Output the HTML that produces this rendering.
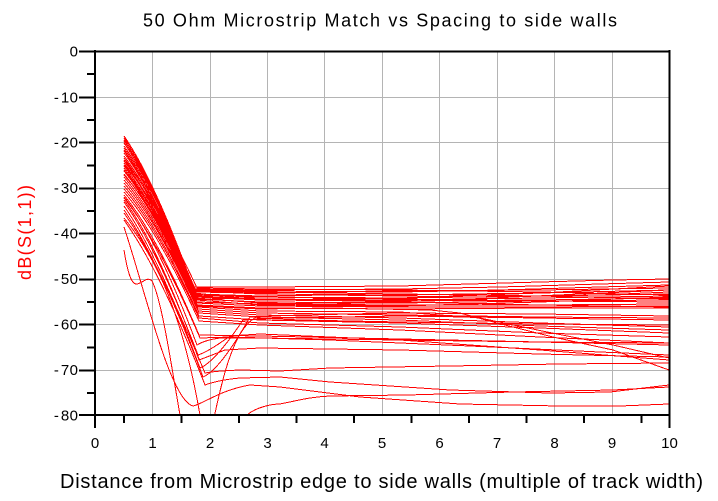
<!DOCTYPE html>
<html>
<head>
<meta charset="utf-8">
<style>
  html, body { margin: 0; padding: 0; background: #ffffff; }
  svg { display: block; }
  text { font-family: "Liberation Sans", Arial, sans-serif; }
</style>
</head>
<body>
<svg width="718" height="501" viewBox="0 0 718 501" xmlns="http://www.w3.org/2000/svg">
  <rect x="0" y="0" width="718" height="501" fill="#ffffff"/>
  <defs>
    <clipPath id="plot">
      <rect x="95" y="51" width="574" height="364"/>
    </clipPath>
  </defs>

  <!-- Title -->
  <text x="143" y="26.5" font-size="18" fill="#000" textLength="474" lengthAdjust="spacing">50 Ohm Microstrip Match vs Spacing to side walls</text>

  <!-- Grid -->
  <g stroke="#b4b4b4" stroke-width="1" shape-rendering="crispEdges">
    <line x1="152.5" y1="51" x2="152.5" y2="415"/>
    <line x1="210.5" y1="51" x2="210.5" y2="415"/>
    <line x1="267.5" y1="51" x2="267.5" y2="415"/>
    <line x1="324.5" y1="51" x2="324.5" y2="415"/>
    <line x1="382.5" y1="51" x2="382.5" y2="415"/>
    <line x1="439.5" y1="51" x2="439.5" y2="415"/>
    <line x1="497.5" y1="51" x2="497.5" y2="415"/>
    <line x1="554.5" y1="51" x2="554.5" y2="415"/>
    <line x1="612.5" y1="51" x2="612.5" y2="415"/>
    <line x1="95" y1="97.5" x2="669" y2="97.5"/>
    <line x1="95" y1="142.5" x2="669" y2="142.5"/>
    <line x1="95" y1="188.5" x2="669" y2="188.5"/>
    <line x1="95" y1="233.5" x2="669" y2="233.5"/>
    <line x1="95" y1="279.5" x2="669" y2="279.5"/>
    <line x1="95" y1="324.5" x2="669" y2="324.5"/>
    <line x1="95" y1="370.5" x2="669" y2="370.5"/>
  </g>

  <!-- Curves -->
  <g clip-path="url(#plot)" fill="none" stroke="#ff0000" stroke-width="1" shape-rendering="crispEdges">
    <path d="M124,136 Q155,181 193,287 L260,287 L400,286 L470,284 L540,282 L613,280 L669,279"/>
    <path d="M124,138 Q155,183 193,289 L260,290 L400,289 L500,287 L600,284 L669,282"/>
    <path d="M124,141 Q155.5,186 194,290 L260,291 L400,292 L500,290 L600,287 L669,285"/>
    <path d="M124,143 Q155.5,188 194,292 L260,293 L400,291 L540,290 L669,288"/>
    <path d="M124,146 Q156,189.5 195,291 L260,294 L400,295 L540,293 L669,290"/>
    <path d="M124,148 Q156,192 195,294 L260,296 L330,295 L470,297 L600,295 L669,292"/>
    <path d="M124,151 Q156,194 195,295 L260,297 L400,298 L540,296 L669,294"/>
    <path d="M124,153 Q156.5,196 196,296 L260,299 L400,300 L540,298 L669,296"/>
    <path d="M124,156 Q156.5,198 196,297 L260,300 L400,301 L540,300 L669,298"/>
    <path d="M124,158 Q156.5,200 196,299 L260,302 L400,303 L540,301 L669,300"/>
    <path d="M124,161 Q156.5,203 196,300 L260,297 L400,299 L540,301 L669,302"/>
    <path d="M124,163 Q157,205 197,302 L260,304 L400,305 L540,305 L669,304"/>
    <path d="M124,166 Q157,207 197,303 L260,306 L400,307 L540,307 L669,306"/>
    <path d="M124,168 Q157,209 197,305 L260,308 L400,309 L540,308 L669,308"/>
    <path d="M124,171 Q157,211.5 197,306 L260,309 L330,308 L430,310 L460,313 L497,323 L553,337 L613,350 L669,370"/>
    <path d="M124,174 Q157.5,214 198,307 L260,311 L400,312 L480,318 L547,332 L613,345 L669,358"/>
    <path d="M124,177 Q157.5,216.6 198,309 L260,313 L400,315 L540,317 L669,318"/>
    <path d="M124,180 Q157.5,219 198,311 L260,315 L400,318 L540,323 L669,327"/>
    <path d="M124,183 Q158,222 199,313 L260,317 L400,320 L540,326 L669,330"/>
    <path d="M124,186 Q158,225 199,316 L260,320 L400,323 L540,328 L669,333"/>
    <path d="M124,189 Q158,227.7 199,318 L260,323 L400,327 L540,333 L669,337"/>
    <path d="M124,192 Q158,231 199,321 L260,325 L400,330 L540,337 L669,343"/>
    <path d="M124,140 Q155.5,186 194,293 L260,300 L400,298 L540,293 L669,286"/>
    <path d="M124,150 Q156,194 195,298 L260,303 L330,304 L470,299 L669,290"/>
    <path d="M124,160 Q156.5,199 196,291 L260,292 L400,294 L540,296 L669,299"/>
    <path d="M124,165 Q157,202 197,288 L260,289 L400,290 L540,292 L669,295"/>
    <path d="M124,170 Q157,209 197,300 L260,305 L400,306 L540,302 L669,297"/>
    <path d="M124,175 Q157,211 197,296 L260,299 L400,302 L540,305 L669,307"/>

    <path d="M124,195 Q158,237 199,335 L260,336 L400,339 L540,342 L669,345"/>
    <path d="M124,198 Q158,240 200,338 L230,337 L330,340 L470,346 L600,352 L669,355"/>
    <path d="M124,202 Q157,248 198,355 Q208,352 230,336 L260,334 L400,340 L540,350 L669,360"/>
    <path d="M124,206 Q158,254.6 200,368 Q215,362 243,320 L280,318 L400,316 L540,318 L669,320"/>
    <path d="M124,210 Q159,260 203,377 Q220,370 250,317 L300,315 L400,313 L540,314 L669,316"/>
    <path d="M124,197 Q158,240 197,345 Q205,340 220,338 L260,338 L400,340 L540,342 L669,343"/>
    <path d="M124,200 Q158,245 199,360 Q207,357 225,350 L260,348 L400,350 L540,354 L669,357"/>

    <path d="M124,213 Q159,262 205,373 Q215,371 240,370 L280,371 L330,368 L450,366 L560,364 L669,363"/>
    <path d="M124,220 Q160,270 205,385 Q218,380 240,378 L280,377 L330,382 L450,390 L550,393 L610,392 L669,385"/>
    <path d="M124,227 C145,290 170,400 193,406 C203,404 220,390 250,385 L280,387 L360,397 L460,404 L560,406 L620,406 L669,404"/>
    <path d="M124,218 C150,250 180,300 200,415 L202,430 M213,430 L214,418 C220,390 232,330 255,318 L300,320 L400,322 L540,324 L669,325"/>
    <path d="M124,250 C128,275 132,285 137,284 C143,283 147,276 152,281 C162,300 172,370 180,415 L182,425 M244,425 L247,415 C255,408 270,404 280,404 C300,400 310,397 330,396 L407,395 L513,392 L613,390 L669,387"/>
  </g>

  <!-- Axes box and ticks -->
  <g fill="#000" shape-rendering="crispEdges">
    <rect x="94" y="50" width="2" height="378"/>
    <rect x="668.5" y="50" width="2" height="378"/>
    <rect x="79" y="50.5" width="591" height="2"/>
    <rect x="79" y="414" width="591" height="2"/>
    <!-- y major ticks -->
    <rect x="79" y="96.5" width="16" height="2"/>
    <rect x="79" y="141.5" width="16" height="2"/>
    <rect x="79" y="187.5" width="16" height="2"/>
    <rect x="79" y="232.5" width="16" height="2"/>
    <rect x="79" y="278.5" width="16" height="2"/>
    <rect x="79" y="323.5" width="16" height="2"/>
    <rect x="79" y="369.5" width="16" height="2"/>
    <!-- y minor ticks -->
    <rect x="87" y="73" width="8" height="2"/>
    <rect x="87" y="119" width="8" height="2"/>
    <rect x="87" y="164.5" width="8" height="2"/>
    <rect x="87" y="210" width="8" height="2"/>
    <rect x="87" y="255.5" width="8" height="2"/>
    <rect x="87" y="301" width="8" height="2"/>
    <rect x="87" y="346.5" width="8" height="2"/>
    <rect x="87" y="392" width="8" height="2"/>
    <!-- x minor ticks -->
    <rect x="123" y="415" width="2" height="8"/>
    <rect x="180.5" y="415" width="2" height="8"/>
    <rect x="238" y="415" width="2" height="8"/>
    <rect x="295.5" y="415" width="2" height="8"/>
    <rect x="353" y="415" width="2" height="8"/>
    <rect x="410.5" y="415" width="2" height="8"/>
    <rect x="468" y="415" width="2" height="8"/>
    <rect x="525.5" y="415" width="2" height="8"/>
    <rect x="583" y="415" width="2" height="8"/>
    <rect x="640.5" y="415" width="2" height="8"/>
  </g>

  <!-- Y tick labels -->
  <g font-size="15" fill="#000" text-anchor="end" letter-spacing="0.5">
    <text x="78.5" y="56.5">0</text>
    <text x="78.5" y="102.5">-<tspan dx="1.5">10</tspan></text>
    <text x="78.5" y="147.5">-<tspan dx="1.5">20</tspan></text>
    <text x="78.5" y="193">-<tspan dx="1.5">30</tspan></text>
    <text x="78.5" y="238.5">-<tspan dx="1.5">40</tspan></text>
    <text x="78.5" y="284">-<tspan dx="1.5">50</tspan></text>
    <text x="78.5" y="329.5">-<tspan dx="1.5">60</tspan></text>
    <text x="78.5" y="375">-<tspan dx="1.5">70</tspan></text>
    <text x="78.5" y="420.5">-<tspan dx="1.5">80</tspan></text>
  </g>

  <!-- X tick labels -->
  <g font-size="15" fill="#000" text-anchor="middle">
    <text x="95" y="448">0</text>
    <text x="152.5" y="448">1</text>
    <text x="210" y="448">2</text>
    <text x="267.5" y="448">3</text>
    <text x="324.5" y="448">4</text>
    <text x="382" y="448">5</text>
    <text x="439.5" y="448">6</text>
    <text x="497" y="448">7</text>
    <text x="554.5" y="448">8</text>
    <text x="612" y="448">9</text>
    <text x="669.5" y="448">10</text>
  </g>

  <!-- Axis labels -->
  <text x="60" y="488" font-size="20" fill="#000" textLength="643" lengthAdjust="spacing">Distance from Microstrip edge to side walls (multiple of track width)</text>
  <text transform="translate(31,280) rotate(-90)" font-size="18" fill="#ff0000" textLength="95" lengthAdjust="spacing">dB(S(1,1))</text>
</svg>
</body>
</html>
